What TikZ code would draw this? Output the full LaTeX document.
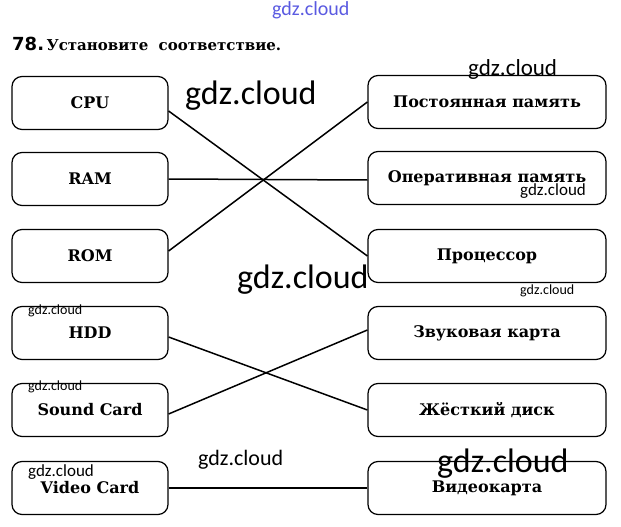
\documentclass[tikz,border=0pt]{standalone}
\usepackage{fontspec}
\setmainfont{DejaVu Serif}
\newfontfamily\wmfont{Carlito}
\newfontfamily\numfont{DejaVu Sans}
\definecolor{wmblue}{RGB}{90,90,225}
\begin{document}
\begin{tikzpicture}[x=1pt,y=-1pt,
  lbox/.style={draw,rounded corners=10pt,line width=1.2pt,minimum width=156pt,minimum height=53pt,inner sep=0pt,font=\bfseries\fontsize{16}{19}\selectfont},
  rbox/.style={lbox,minimum width=238pt},
  link/.style={line width=1.5pt},
  wmark/.style={font=\wmfont\fontsize{#1}{#1}\selectfont,inner sep=0pt,anchor=base west}]
\useasboundingbox[fill=white] (0,0) rectangle (621,527);
\node[anchor=base west,inner sep=0pt,font=\bfseries\fontsize{15}{17}\selectfont] (title) at (12,51) {{\numfont\fontsize{18}{20}\selectfont 78.}\,Установите\ \ соответствие.};
% left boxes
\node[lbox] (cpu)   at (90,103) {CPU};
\node[lbox] (ram)   at (90,179) {RAM};
\node[lbox] (rom)   at (90,256) {ROM};
\node[lbox] (hdd)   at (90,333) {HDD};
\node[lbox] (sound) at (90,410) {Sound Card};
\node[lbox] (video) at (90,488) {Video Card};
% right boxes
\node[rbox] (perm)  at (487,102) {Постоянная память};
\node[rbox] (oper)  at (487,178) {Оперативная память};
\node[rbox] (proc)  at (487,256) {Процессор};
\node[rbox] (zvuk)  at (487,333) {Звуковая карта};
\node[rbox] (hard)  at (487,410) {Жёсткий диск};
\node[rbox] (vkart) at (487,488) {Видеокарта};
% connectors
\draw[link] ([yshift=-8pt]cpu.east) -- (proc.west);
\draw[link] (ram.east) -- ([yshift=-2pt]oper.west);
\draw[link] ([yshift=5pt]rom.east) -- (perm.west);
\draw[link] ([yshift=-4pt]hdd.east) -- (hard.west);
\draw[link] ([yshift=-4pt]sound.east) -- ([yshift=3pt]zvuk.west);
\draw[link] (video.east) -- (vkart.west);
% watermarks
\node[wmark=20,text=wmblue] (w1) at (272,16) {gdz.cloud};
\node[wmark=34] (w2) at (185,104) {gdz.cloud};
\node[wmark=23] (w3) at (468,75) {gdz.cloud};
\node[wmark=17] (w4) at (520,195) {gdz.cloud};
\node[wmark=34] (w5) at (237,288) {gdz.cloud};
\node[wmark=14] (w6) at (520,294) {gdz.cloud};
\node[wmark=14] (w7) at (28,314) {gdz.cloud};
\node[wmark=14] (w8) at (28,390) {gdz.cloud};
\node[wmark=22] (w9) at (198,465) {gdz.cloud};
\node[wmark=34] (w10) at (437,472) {gdz.cloud};
\node[wmark=17] (w11) at (28,476) {gdz.cloud};
\end{tikzpicture}
\end{document}
